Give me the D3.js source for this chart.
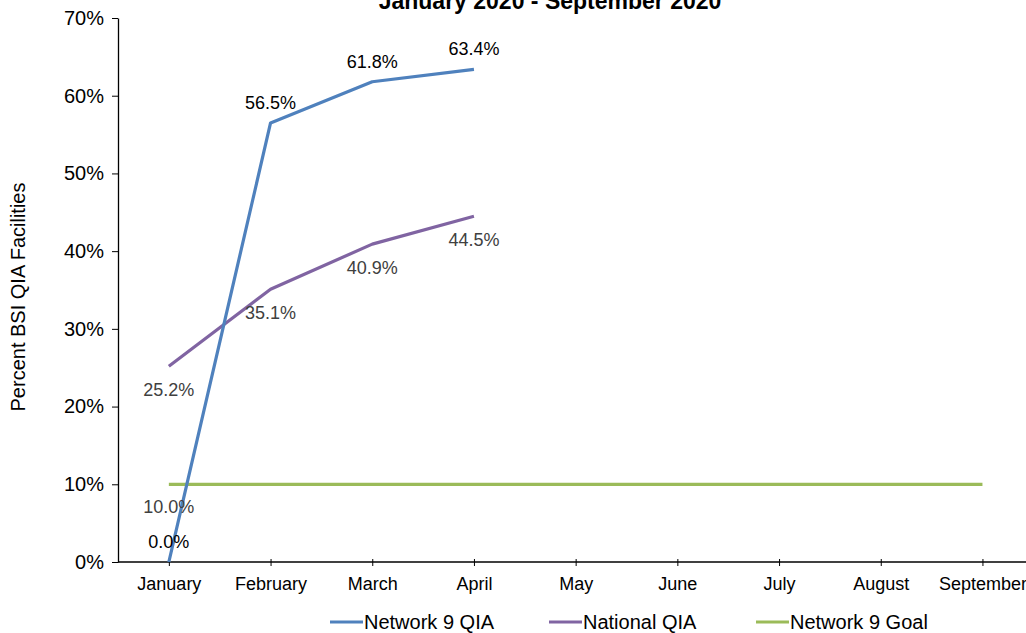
<!DOCTYPE html>
<html><head><meta charset="utf-8">
<script src="https://cdn.jsdelivr.net/npm/d3@7"></script>
<style>body{margin:0;background:#fff}svg{display:block;font-family:"Liberation Sans",Arial,sans-serif}</style>
</head><body><svg id="c" width="1026" height="633"></svg>
<script>
const months = ["January","February","March","April","May","June","July","August","September"];
const network9 = [0.0, 56.5, 61.8, 63.4];
const national = [25.2, 35.1, 40.9, 44.5];
const goal = [10,10,10,10,10,10,10,10,10];
const yTicks = [0,10,20,30,40,50,60,70];
const seriesNames = ["Network 9 QIA","National QIA","Network 9 Goal"];
const colors = ["#4F81BD","#8064A2","#9BBB59"];

(function(){
const svg = d3.select("#c");
const left = 118, plotTop = 18, bottom = 562;
const step = 101.7;
const x = d3.scalePoint().domain(months).range([left + step/2, left + step/2 + step*8]);
const y = d3.scaleLinear().domain([0,70]).range([bottom, plotTop]);

// title
svg.append("text").attr("x",550).attr("y",9).attr("text-anchor","middle")
  .attr("font-size",23).attr("font-weight","bold").text("January 2020 - September 2020");

// y axis
const ya = svg.append("g").attr("transform",`translate(${left},0)`)
  .call(d3.axisLeft(y).tickValues(yTicks).tickFormat(d=>d+"%").tickSize(6).tickSizeOuter(0));
ya.select(".domain").attr("stroke","#000").attr("stroke-width",1.3);
ya.selectAll("text").attr("font-size",20).attr("fill","#000").attr("font-family","Liberation Sans, Arial").attr("dx",-5);
ya.selectAll("line").attr("stroke","#000");

// x axis
const xa = svg.append("g").attr("transform",`translate(0,${bottom})`)
  .call(d3.axisBottom(x).tickSize(6).tickSizeOuter(0).tickPadding(9));
xa.select(".domain").attr("d",`M${left},0H1026`).attr("stroke","#000").attr("stroke-width",1.3);
xa.selectAll(".tick line").attr("y1",-3).attr("y2",4).attr("stroke","#000");
xa.selectAll("text").attr("font-size",18).attr("fill","#000").attr("font-family","Liberation Sans, Arial");

// y title
svg.append("text").attr("transform","translate(25,297) rotate(-90)").attr("text-anchor","middle")
  .attr("font-size",20).text("Percent BSI QIA Facilities");

const line = d3.line().x((d,i)=>x(months[i])).y(d=>y(d));
const data = [network9, national, goal];
[2,1,0].forEach(k=>{
  svg.append("path").datum(data[k]).attr("d",line).attr("fill","none")
    .attr("stroke",colors[k]).attr("stroke-width",3.2).attr("stroke-linejoin","round");
});

// labels
const lab = (t,xx,yy,fill)=>svg.append("text").attr("x",xx).attr("y",yy).attr("text-anchor","middle")
  .attr("font-size",18).attr("fill",fill).text(t);
network9.forEach((v,i)=>lab(v.toFixed(1)+"%", x(months[i]), y(v)-14, "#000"));
national.forEach((v,i)=>lab(v.toFixed(1)+"%", x(months[i]), y(v)+30, "#404040"));
lab(goal[0].toFixed(1)+"%", x(months[0]), y(goal[0])+29, "#404040");

// legend
const lx = [330, 549, 756];
seriesNames.forEach((n,i)=>{
  svg.append("line").attr("x1",lx[i]).attr("x2",lx[i]+33).attr("y1",622).attr("y2",622)
    .attr("stroke",colors[i]).attr("stroke-width",3.2);
  svg.append("text").attr("x",lx[i]+34).attr("y",629).attr("font-size",20).text(n);
});
})();
</script></body></html>
